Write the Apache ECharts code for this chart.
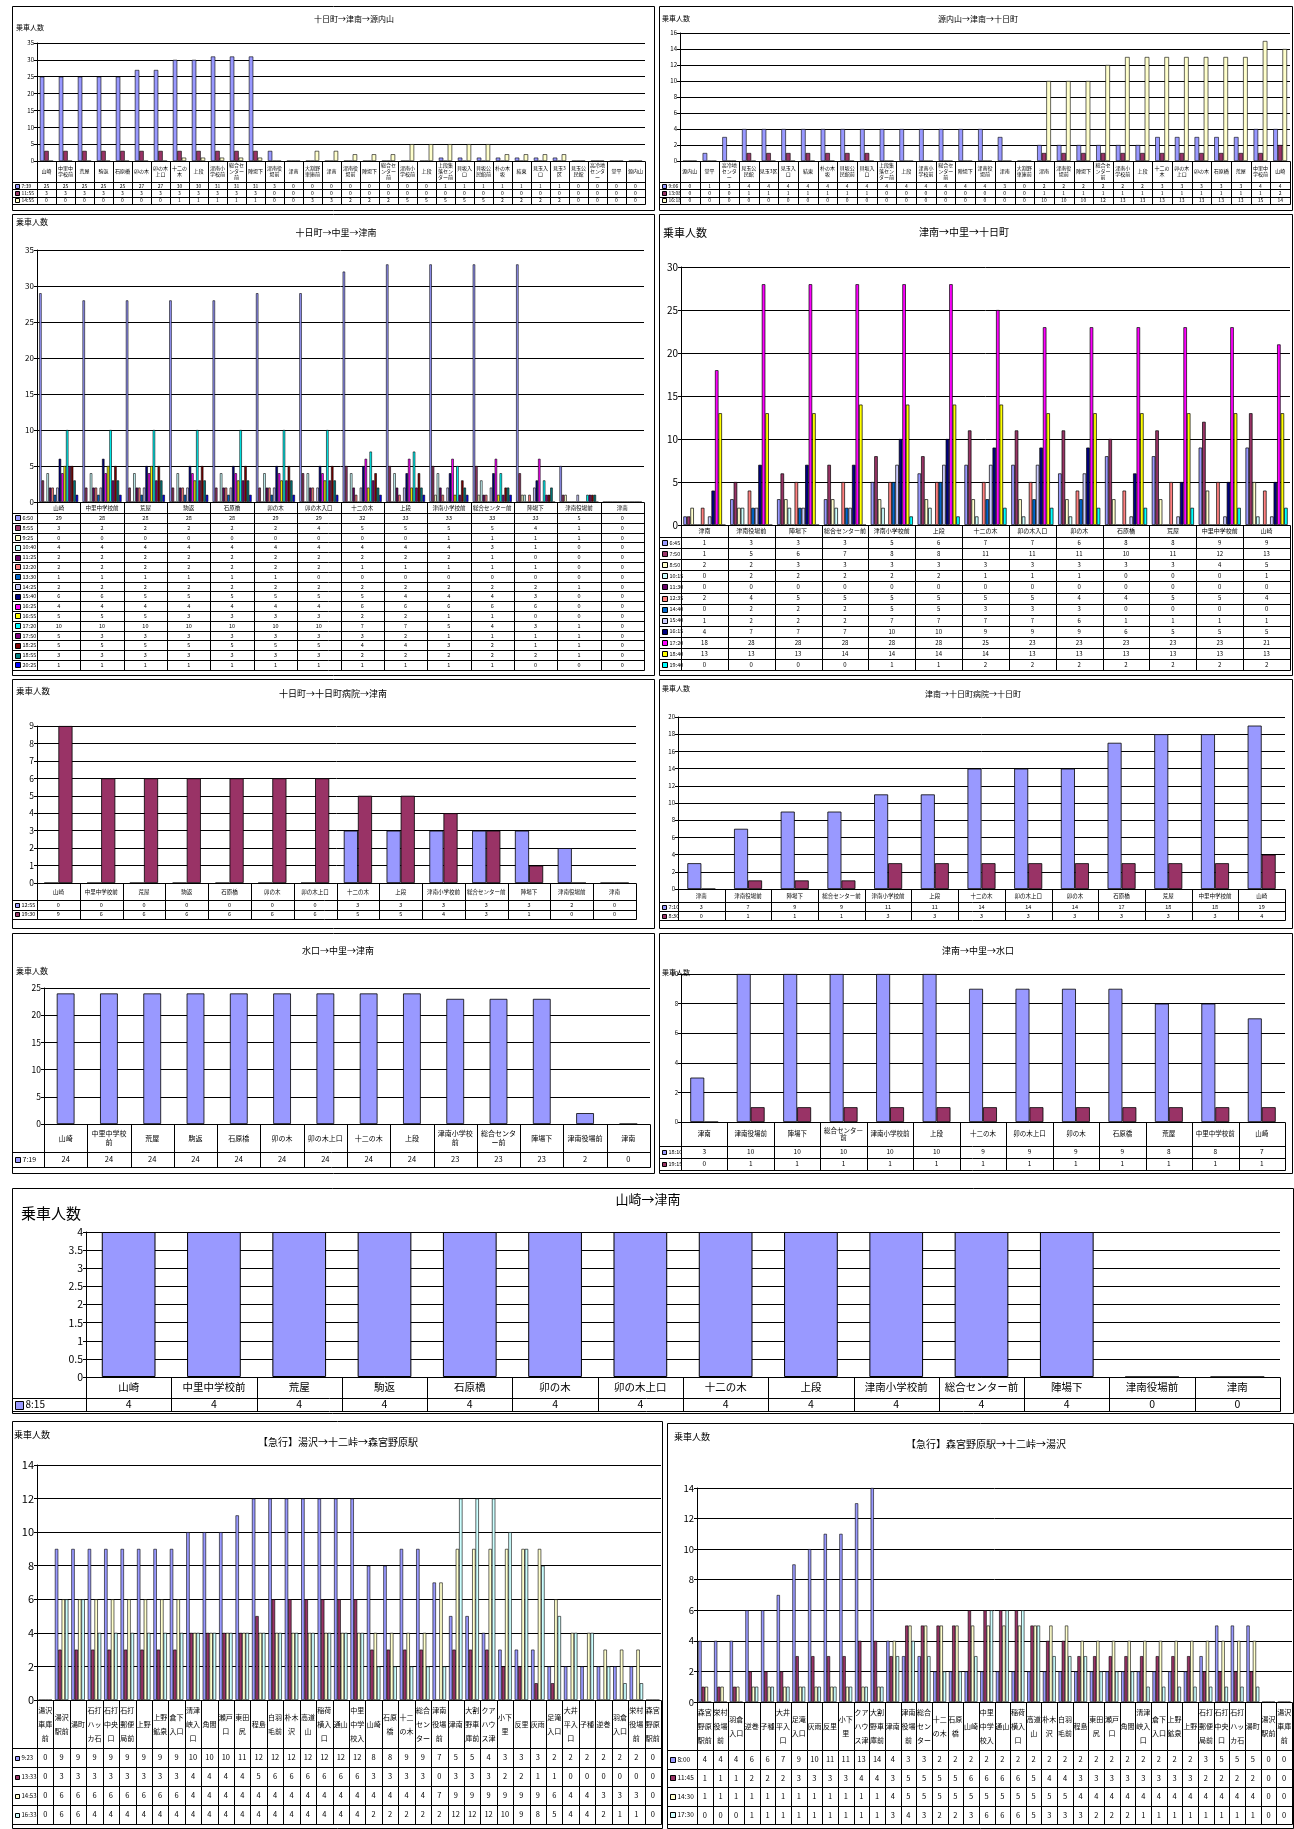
<!DOCTYPE html>
<html>
<head>
<meta charset="utf-8">
<script src="https://cdn.jsdelivr.net/npm/echarts@6/dist/echarts.min.js"></script>
<style>
html,body{margin:0;padding:0;background:#fff}
#c{width:1294px;height:1829px}
</style>
</head>
<body>
<div id="c"></div>
<script>
// 乗車人数調査：路線・便ごとの停留所別乗車人数

const PALETTE = ['#9999FF','#993366','#FFFFCC','#CCFFFF','#660066','#FF8080','#0066CC','#CCCCFF',
                 '#000080','#FF00FF','#FFFF00','#00FFFF','#800080','#800000','#008080','#0000FF'];

// 十日町→津南→源内山
const stopsA = ['山崎','中里中学校前','荒屋','駒返','石原橋','卯の木','卯の木上口','十二の木','上段','津南小学校前','総合センター前','陣場下','津南役場前','津南','大割野車庫前','津南','津南役場前','陣場下','総合センター前','津南小学校前','上段','上段集落センター前','貝坂入口','貝坂公民館前','朴の木坂','結東','見玉入口','見玉3区','見玉公民館','高冷地センター','堂平','源内山'];
const a0739 = [25,25,25,25,25,27,27,30,30,31,31,31,3,0,0,0, 0,0,0,0,0,1,1,1,1,1,1,1,0,0,0,0];
const a1155 = [3,3,3,3,3,3,3,3,3,3,3,3,0,0,0,0, 0,0,0,0,0,0,0,0,0,0,0,0,0,0,0,0];
const a1455 = [0,0,0,0,0,0,0,1,1,1,1,1,0,0,3,3, 2,2,2,5,5,5,5,5,2,2,2,2,0,0,0,0];

// 源内山→津南→十日町
const stopsB = ['源内山','堂平','高冷地センター','見玉公民館','見玉3区','見玉入口','結東','朴の木坂','貝坂公民館前','貝坂入口','上段集落センター前','上段','津南小学校前','総合センター前','陣場下','津南役場前','津南','大割野車庫前','津南','津南役場前','陣場下','総合センター前','津南小学校前','上段','十二の木','卯の木上口','卯の木','石原橋','荒屋','中里中学校前','山崎'];
const b0906 = [0,1,3,4,4,4,4,4,4,4,4,4,4,4,4, 4,3,0,2,2,2,2,2,2,3,3,3,3,3,4,4];
const b1308 = [0,0,0,1,1,1,1,1,1,1,0,0,0,0,0, 0,0,0,1,1,1,1,1,1,1,1,1,1,1,1,2];
const b1618 = [0,0,0,0,0,0,0,0,0,0,0,0,0,0,0, 0,0,0,10,10,10,12,13,13,13,13,13,13,13,15,14];

// 十日町→中里→津南
const stopsC = ['山崎','中里中学校前','荒屋','駒返','石原橋','卯の木','卯の木入口','十二の木','上段','津南小学校前','総合センター前','陣場下','津南役場前','津南'];
const c0650 = [29,28,28,28,28,29,29,32,33,33,33,33,5,0];
const c0855 = [3,2,2,2,2,2,4,5,5,5,5,4,1,0];
const c0925 = [0,0,0,0,0,0,0,0,0,1,1,1,1,0];
const c1040 = [4,4,4,4,4,4,4,4,4,4,3,1,0,0];
const c1125 = [2,2,2,2,2,2,2,2,2,2,1,0,0,0];
const c1220 = [2,2,2,2,2,2,2,1,1,1,1,1,0,0];
const c1330 = [1,1,1,1,1,1,0,0,0,0,0,0,0,0];
const c1425 = [2,2,2,2,2,2,2,2,2,2,2,2,1,0];
const c1540 = [6,6,5,5,5,5,5,5,4,4,4,3,0,0];
const c1625 = [4,4,4,4,4,4,4,6,6,6,6,6,0,0];
const c1655 = [5,5,5,3,3,3,3,2,2,1,1,0,0,0];
const c1720 = [10,10,10,10,10,10,10,7,7,5,4,3,1,0];
const c1750 = [5,3,3,3,3,3,3,3,2,1,1,1,1,0];
const c1825 = [5,5,5,5,5,5,5,4,4,3,2,1,1,0];
const c1855 = [3,3,3,3,3,3,3,2,2,2,2,2,1,0];
const c2025 = [1,1,1,1,1,1,1,1,1,1,1,0,0,0];

// 津南→中里→十日町
const stopsD = ['津南','津南役場前','陣場下','総合センター前','津南小学校前','上段','十二の木','卯の木入口','卯の木','石原橋','荒屋','中里中学校前','山崎'];
const d0645 = [1,3,3,3,5,6,7,7,6,8,8,9,9];
const d0750 = [1,5,6,7,8,8,11,11,11,10,11,12,13];
const d0850 = [2,2,3,3,3,3,3,3,3,3,3,4,5];
const d1015 = [0,2,2,2,2,2,1,1,1,0,0,0,1];
const d1130 = [0,0,0,0,0,0,0,0,0,0,0,0,0];
const d1235 = [2,4,5,5,5,5,5,5,4,4,5,5,4];
const d1440 = [0,2,2,2,5,5,3,3,3,0,0,0,0];
const d1540 = [1,2,2,2,7,7,7,7,6,1,1,1,1];
const d1615 = [4,7,7,7,10,10,9,9,9,6,5,5,5];
const d1720 = [18,28,28,28,28,28,25,23,23,23,23,23,21];
const d1840 = [13,13,13,14,14,14,14,13,13,13,13,13,13];
const d1940 = [0,0,0,0,1,1,2,2,2,2,2,2,2];

// 十日町→十日町病院→津南 / 水口→中里→津南 / 山崎→津南
const stopsE = ['山崎','中里中学校前','荒屋','駒返','石原橋','卯の木','卯の木上口','十二の木','上段','津南小学校前','総合センター前','陣場下','津南役場前','津南'];
const e1255 = [0,0,0,0,0,0,0,3,3,3,3,3,2,0];
const e1930 = [9,6,6,6,6,6,6,5,5,4,3,1,0,0];
const g0719 = [24,24,24,24,24,24,24,24,24,23,23,23,2,0];
const i0815 = [4,4,4,4,4,4,4,4,4,4,4,4,0,0];

// 津南→十日町病院→十日町 / 津南→中里→水口
const stopsF = ['津南','津南役場前','陣場下','総合センター前','津南小学校前','上段','十二の木','卯の木上口','卯の木','石原橋','荒屋','中里中学校前','山崎'];
const f0710 = [3,7,9,9,11,11,14,14,14,17,18,18,19];
const f0830 = [0,1,1,1,3,3,3,3,3,3,3,3,4];
const h1810 = [3,10,10,10,10,10,9,9,9,9,8,8,7];
const h1915 = [0,1,1,1,1,1,1,1,1,1,1,1,1];

// 【急行】湯沢→十二峠→森宮野原駅
const stopsJ = ['湯沢車庫前','湯沢駅前','湯町','石打ハッカ石','石打中央口','石打郵便局前','上野','上野鉱泉','倉下入口','清津峡入口','角間','瀬戸口','東田尻','程島','白羽毛前','朴木沢','高道山','稲荷横入口','通山','中里中学校入口','山崎','石原橋','十二の木','総合センター','津南役場前','津南','大割野車庫前','クアハウス津南','小下里','反里','灰雨','足滝入口','大井平入口','子種','逆巻','羽倉入口','栄村役場前','森宮野原駅前'];
const j0923 = [0,9,9,9,9,9,9,9,9,10,10,10,11,12,12,12,12,12,12,12,8,8,9,9,7,5,5,4,3,3,3,2,2,2,2,2,2,0];
const j1333 = [0,3,3,3,3,3,3,3,3,4,4,4,4,5,6,6,6,6,6,6,3,3,3,3,0,3,3,3,2,2,1,1,0,0,0,0,0,0];
const j1453 = [0,6,6,6,6,6,6,6,6,4,4,4,4,4,4,4,4,4,4,4,4,4,4,4,7,9,9,9,9,9,9,6,4,4,3,3,3,0];
const j1633 = [0,6,6,4,4,4,4,4,4,4,4,4,4,4,4,4,4,4,4,4,2,2,2,2,2,12,12,12,10,9,8,5,4,4,2,1,1,0];

// 【急行】森宮野原駅→十二峠→湯沢
const stopsK = ['森宮野原駅前','栄村役場前','羽倉入口','逆巻','子種','大井平入口','足滝入口','灰雨','反里','小下里','クアハウス津南','大割野車庫前','津南','津南役場前','総合センター','十二の木','石原橋','山崎','中里中学校入口','通山','稲荷横入口','高道山','朴木沢','白羽毛前','程島','東田尻','瀬戸口','角間','清津峡入口','倉下入口','上野鉱泉','上野','石打郵便局前','石打中央口','石打ハッカ石','湯町','湯沢駅前','湯沢車庫前'];
const k0800 = [4,4,4,6,6,7,9,10,11,11,13,14,4,3,3,2,2,2,2,2,2,2,2,2,2,2,2,2,2,2,2,2,3,5,5,5,0,0];
const k1145 = [1,1,1,2,2,2,3,3,3,3,4,4,3,5,5,5,5,6,6,6,6,5,4,4,3,3,3,3,3,3,3,3,2,2,2,2,0,0];
const k1430 = [1,1,1,1,1,1,1,1,1,1,1,1,4,5,5,5,5,5,5,5,5,5,5,5,4,4,4,4,4,4,4,4,4,4,4,4,0,0];
const k1730 = [0,0,0,1,1,1,1,1,1,1,1,1,3,4,3,2,2,3,6,6,6,5,3,3,3,2,2,2,1,1,1,1,1,1,1,1,0,0];

const Y_NAME = '乗車人数';

// layout of each chart panel (page pixels)
const panels = [
  { box:[12,6,655,211], title:'十日町→津南→源内山', tPos:[354,19], tSize:8, nPos:[16,27], nSize:7,
    plot:[37,43,645,161], yMax:35, yStep:5, yFont:6, cats:stopsA,
    series:[['7:39',a0739],['11:55',a1155],['14:55',a1455]], gap:'30%', bw:0.6,
    headH:21, rowH:7.3, catFont:5, catLH:6, valFont:5, legFont:5, key:4 },
  { box:[659,6,1293,211], title:'源内山→津南→十日町', tPos:[978,19], tSize:8, nPos:[662,18], nSize:7,
    plot:[680,33,1290,161], yMax:16, yStep:2, yFont:6, cats:stopsB,
    series:[['9:06',b0906],['13:08',b1308],['16:18',b1618]], gap:'30%', bw:0.6,
    headH:21, rowH:7.3, catFont:5, catLH:6, valFont:5, legFont:5, key:4 },
  { box:[12,214,655,676], title:'十日町→中里→津南', tPos:[336,233], tSize:9, nPos:[16,222], nSize:8,
    plot:[37,250,644,502], yMax:35, yStep:5, yFont:8, cats:stopsC,
    series:[['6:50',c0650],['8:55',c0855],['9:25',c0925],['10:40',c1040],['11:25',c1125],['12:20',c1220],
            ['13:30',c1330],['14:25',c1425],['15:40',c1540],['16:25',c1625],['16:55',c1655],['17:20',c1720],
            ['17:50',c1750],['18:25',c1825],['18:55',c1855],['20:25',c2025]], gap:'10%', bw:0.6,
    headH:11, rowH:9.8, catFont:5.5, catLH:6, valFont:5.5, legFont:5.5, key:5 },
  { box:[659,214,1293,676], title:'津南→中里→十日町', tPos:[964,232], tSize:10, nPos:[663,233], nSize:11,
    plot:[681,267,1290,525], yMax:30, yStep:5, yFont:10, cats:stopsD,
    series:[['6:45',d0645],['7:50',d0750],['8:50',d0850],['10:15',d1015],['11:30',d1130],['12:35',d1235],
            ['14:40',d1440],['15:40',d1540],['16:15',d1615],['17:20',d1720],['18:40',d1840],['19:40',d1940]],
    gap:'10%', bw:0.7, headH:12, rowH:11.1, catFont:6, catLH:7, valFont:6, legFont:5.5, key:5 },
  { box:[12,679,655,929], title:'十日町→十日町病院→津南', tPos:[333,694], tSize:9, nPos:[16,691], nSize:8.5,
    plot:[37,726,636,883], yMax:9, yStep:1, yFont:8.5, cats:stopsE,
    series:[['12:55',e1255],['19:30',e1930]], gap:'34%', bw:0.8,
    headH:17, rowH:9.5, catFont:5.5, catLH:6, valFont:5.5, legFont:5.5, key:4 },
  { box:[659,679,1293,929], title:'津南→十日町病院→十日町', tPos:[973,694], tSize:8, nPos:[662,688], nSize:7,
    plot:[678,717,1285,889], yMax:20, yStep:2, yFont:6, cats:stopsF,
    series:[['7:10',f0710],['8:30',f0830]], gap:'40%', bw:0.8,
    headH:13, rowH:9, catFont:5.5, catLH:6, valFont:5.5, legFont:5.5, key:4 },
  { box:[12,933,655,1174], title:'水口→中里→津南', tPos:[338,951], tSize:9, nPos:[16,971], nSize:8,
    plot:[44,988,650,1124], yMax:25, yStep:5, yFont:8.5, cats:stopsE,
    series:[['7:19',g0719]], gap:'59%', bw:0.8,
    headH:28, rowH:15, catFont:7, catLH:9, valFont:7.5, legFont:7, key:5 },
  { box:[659,933,1293,1174], title:'津南→中里→水口', tPos:[978,951], tSize:9, nPos:[662,972], nSize:7,
    plot:[681,974,1285,1122], yMax:10, yStep:2, yFont:6, cats:stopsF,
    series:[['18:10',h1810],['19:15',h1915]], gap:'40%', bw:0.8,
    headH:24, rowH:12, catFont:6.5, catLH:7.5, valFont:6.5, legFont:5.5, key:4 },
  { box:[12,1188,1294,1414], title:'山崎→津南', tPos:[648,1199], tSize:13, nPos:[21,1213], nSize:15,
    plot:[86,1232,1280,1377], yMax:4, yStep:0.5, yFont:10.5, cats:stopsE,
    series:[['8:15',i0815]], gap:'37%', bw:1,
    headH:21, rowH:13, catFont:10.5, catLH:11, valFont:10.5, legFont:10, key:8 },
  { box:[12,1421,663,1829], title:'【急行】湯沢→十二峠→森宮野原駅', tPos:[338,1442], tSize:10, nPos:[14,1435], nSize:9,
    plot:[37,1465,661,1700], yMax:14, yStep:2, yFont:11, cats:stopsJ,
    series:[['9:23',j0923],['13:33',j1333],['14:53',j1453],['16:33',j1633]], gap:'18%', bw:0.6,
    headH:48, rowH:19, catFont:7, catLH:14, catMaxLines:3, valFont:7.5, legFont:6, key:4 },
  { box:[667,1423,1294,1829], title:'【急行】森宮野原駅→十二峠→湯沢', tPos:[986,1444], tSize:10, nPos:[674,1437], nSize:9,
    plot:[697,1488,1292,1702], yMax:14, yStep:2, yFont:9.5, cats:stopsK,
    series:[['8:00',k0800],['11:45',k1145],['14:30',k1430],['17:30',k1730]], gap:'18%', bw:0.6,
    headH:48, rowH:18.5, catFont:7, catLH:14, catMaxLines:3, valFont:7.5, legFont:6.5, key:5 }
];

const FONT = '"Noto Sans CJK JP", "Noto Sans", sans-serif';
const crisp = v => Math.round(v) + 0.5;
const graphics = [];

function text(x, y, s, size, extra) {
  const st = Object.assign({
    text: String(s), fontSize: size, fontFamily: FONT, fill: '#000',
    align: 'center', verticalAlign: 'middle', textAlign: 'center', textVerticalAlign: 'middle'
  }, extra || {});
  graphics.push({ type: 'text', x: x, y: y, silent: true, style: st });
}
function line(x1, y1, x2, y2) {
  graphics.push({ type: 'line', silent: true,
    shape: { x1: x1, y1: y1, x2: x2, y2: y2 },
    style: { stroke: '#000', lineWidth: 1 } });
}

const grids = [], xAxes = [], yAxes = [], seriesList = [];

panels.forEach((p, i) => {
  const [L, T, R, B] = p.plot;
  grids.push({ left: L, top: T, width: R - L, height: B - T });
  xAxes.push({ type: 'category', gridIndex: i, data: p.cats,
    axisLabel: { show: false }, axisTick: { show: false },
    axisLine: { lineStyle: { color: '#000', width: 1 } } });
  yAxes.push({ type: 'value', gridIndex: i, min: 0, max: p.yMax, interval: p.yStep,
    axisLine: { show: true, lineStyle: { color: '#000', width: 1 } },
    axisTick: { show: true, length: 3, lineStyle: { color: '#000' } },
    splitLine: { lineStyle: { color: '#000', width: 1 } },
    axisLabel: { fontSize: p.yFont, color: '#000', fontFamily: FONT, margin: 3 } });
  p.series.forEach(([name, data], s) => {
    seriesList.push({ type: 'bar', name: name, xAxisIndex: i, yAxisIndex: i, data: data,
      barGap: '0%', barCategoryGap: p.gap, silent: true,
      itemStyle: { color: PALETTE[s], borderColor: '#000', borderWidth: p.bw } });
  });

  // frame, title and axis caption
  const [bx1, by1, bx2, by2] = p.box;
  graphics.push({ type: 'rect', silent: true,
    shape: { x: crisp(bx1), y: crisp(by1), width: Math.round(bx2 - bx1) - 1, height: Math.round(by2 - by1) - 1 },
    style: { fill: null, stroke: '#000', lineWidth: 1 } });
  text(p.tPos[0], p.tPos[1], p.title, p.tSize);
  text(p.nPos[0], p.nPos[1], Y_NAME, p.nSize, { align: 'left', textAlign: 'left' });

  // data table under the plot
  const n = p.cats.length;
  const colW = (R - L) / n;
  const tl = bx1;
  const headBot = B + p.headH;
  const tableBot = headBot + p.rowH * p.series.length;
  for (let j = 0; j <= n; j++) {
    const x = crisp(L + j * colW);
    line(x, crisp(B), x, crisp(tableBot));
  }
  line(crisp(tl), crisp(headBot), crisp(R), crisp(headBot));
  for (let r = 1; r <= p.series.length; r++) {
    const y = crisp(headBot + r * p.rowH);
    line(crisp(tl), y, crisp(R), y);
  }
  p.cats.forEach((c, j) => {
    const extra = { width: colW - 1.5, overflow: 'breakAll', lineHeight: p.catLH };
    if (p.catMaxLines) { extra.height = p.catLH * p.catMaxLines; extra.lineOverflow = 'truncate'; }
    text(L + (j + 0.5) * colW, B + p.headH / 2, c, p.catFont, extra);
  });
  p.series.forEach(([name, data], s) => {
    const cy = headBot + (s + 0.5) * p.rowH;
    graphics.push({ type: 'rect', silent: true,
      shape: { x: Math.round(tl + 3) + 0.5, y: Math.round(cy - p.key / 2) + 0.5, width: p.key, height: p.key },
      style: { fill: PALETTE[s], stroke: '#000', lineWidth: 1 } });
    text(tl + 4 + p.key + 1.5, cy, name, p.legFont, { align: 'left', textAlign: 'left' });
    data.forEach((v, j) => text(L + (j + 0.5) * colW, cy, v, p.valFont));
  });
});

const chart = echarts.init(document.getElementById('c'), null, { renderer: 'canvas' });
chart.setOption({
  animation: false,
  backgroundColor: '#fff',
  textStyle: { fontFamily: FONT },
  grid: grids, xAxis: xAxes, yAxis: yAxes, series: seriesList,
  graphic: { elements: graphics }
});
</script>
</body>
</html>
